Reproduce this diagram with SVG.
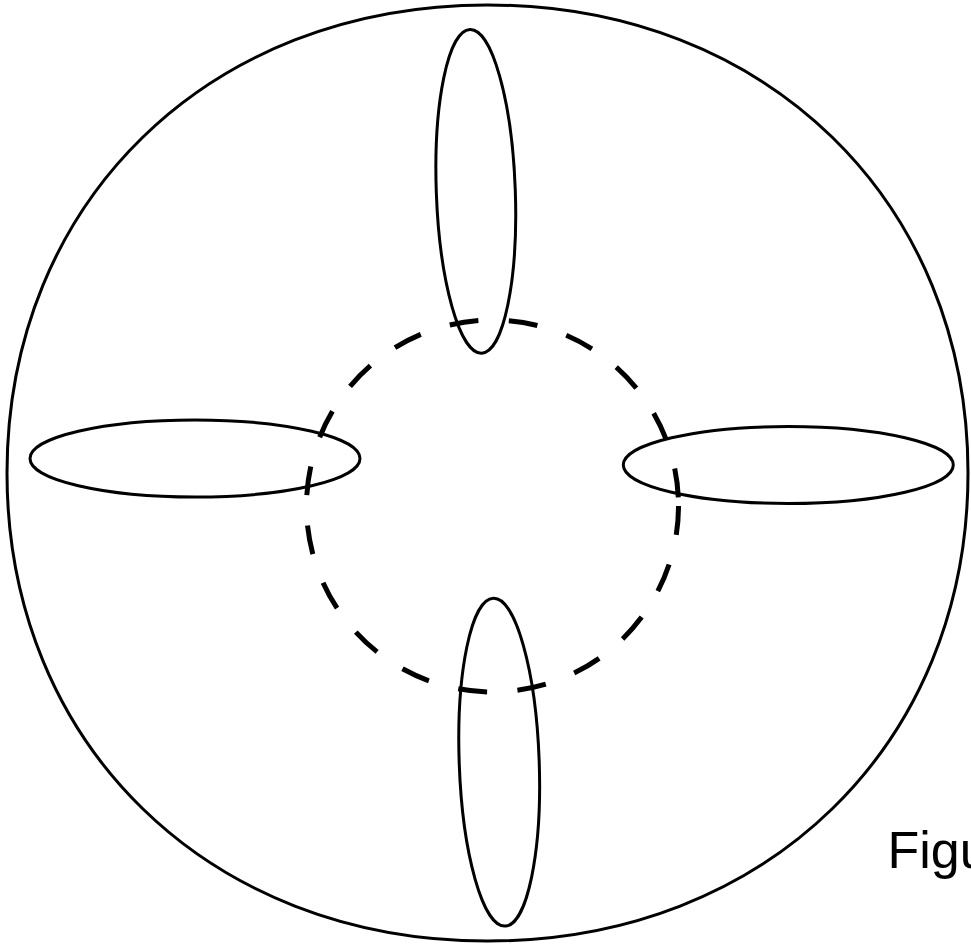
<svg xmlns="http://www.w3.org/2000/svg" width="971" height="948" viewBox="0 0 971 948">
  <style>
    .outline { fill: none; stroke: #000; stroke-width: 3; }
    .dashed { fill: none; stroke: #000; stroke-width: 5; stroke-dasharray: 29 30.5; }
    .label { font-family: "Liberation Sans", Arial, sans-serif; font-size: 52px; fill: #000; }
  </style>
  <rect width="971" height="948" fill="#fff"/>
  <g id="outer-circle">
    <path class="outline" d="M968,473 C968,744.4 766.2,941 487.5,941 C208.8,941 7,744.4 7,473 C7,201.6 208.8,5 487.5,5 C766.2,5 968,201.6 968,473 Z"/>
  </g>
  <g id="inner-dashed-circle">
    <circle class="dashed" cx="492.5" cy="506" r="186"/>
  </g>
  <g id="ellipse-top">
    <ellipse class="outline" cx="475.8" cy="191.3" rx="39.5" ry="162" transform="rotate(-2.07 475.8 191.3)"/>
  </g>
  <g id="ellipse-left">
    <ellipse class="outline" cx="195" cy="458.5" rx="165" ry="38.5"/>
  </g>
  <g id="ellipse-right">
    <ellipse class="outline" cx="788.3" cy="465" rx="165" ry="38.5"/>
  </g>
  <g id="ellipse-bottom">
    <ellipse class="outline" cx="499.2" cy="762.2" rx="40" ry="164" transform="rotate(-2.05 499.2 762.2)"/>
  </g>
  <g id="caption">
    <text class="label" x="887.4" y="868.3">Figu</text>
  </g>
</svg>
